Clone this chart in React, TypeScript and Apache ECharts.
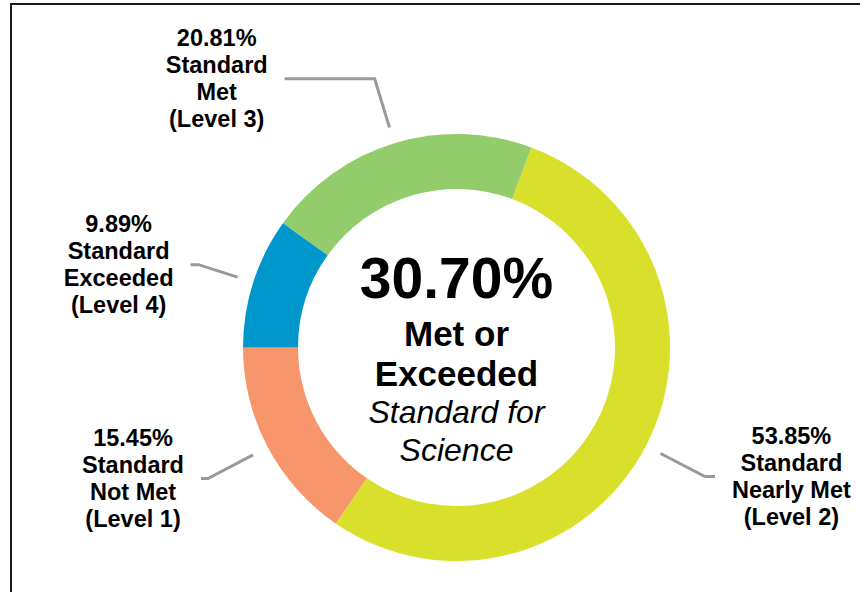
import React, { useEffect, useRef } from "react";
import * as echarts from "echarts";

const categories = [
  "Standard\nNot Met\n(Level 1)",
  "Standard\nNearly Met\n(Level 2)",
  "Standard\nMet\n(Level 3)",
  "Standard\nExceeded\n(Level 4)",
];
const values = [15.45, 53.85, 20.81, 9.89];
const colors = ["#F7966B", "#D8E02B", "#93CD6B", "#0097CD"];
const centerLines = ["Met or", "Exceeded"];
const subLines = ["Standard for", "Science"];

const CX = 456.5;
const CY = 347.5;
const R_IN = 158.5;
const R_OUT = 213.5;
const START = 180;
const lineR0 = [230, 230, 230, 230];
const lineR1 = [281, 280, 281, 271];
const lineL2 = [7, 10, 90, 8];

const FONT = "'Liberation Sans', Arial, Helvetica, sans-serif";

export default function App() {
  const ref = useRef<HTMLDivElement>(null);
  useEffect(() => {
    if (!ref.current) return;
    const chart = echarts.init(ref.current, null, { renderer: "svg" });
    const total = values.reduce((a, b) => a + b, 0);
    const mids: number[] = [];
    let cum = 0;
    values.forEach((v) => {
      mids.push(START + (360 * (cum + v / 2)) / total);
      cum += v;
    });
    const linePts = mids.map((deg, i) => {
      const a = (deg * Math.PI) / 180;
      const c = Math.cos(a);
      const s = Math.sin(a);
      const side = c < 0 ? -1 : 1;
      const p0 = [CX + lineR0[i] * c, CY - lineR0[i] * s];
      const p1 = [CX + lineR1[i] * c, CY - lineR1[i] * s];
      const p2 = [p1[0] + side * lineL2[i], p1[1]];
      return { side, pts: [p0, p1, p2] };
    });
    const metPct = values[2] + values[3];

    chart.setOption({
      animation: false,
      backgroundColor: "#ffffff",
      graphic: [
        {
          type: "rect",
          shape: { x: 11, y: 4, width: 900, height: 700 },
          style: { fill: "none", stroke: "#1a1a1a", lineWidth: 2 },
          silent: true,
        },
        {
          type: "text",
          x: CX,
          y: 278,
          style: {
            text: metPct.toFixed(2) + "%",
            font: `bold 57px ${FONT}`,
            fill: "#000",
            align: "center",
            verticalAlign: "middle",
          },
        },
        ...centerLines.map((t, i) => ({
          type: "text",
          x: CX,
          y: 333 + i * 40,
          style: {
            text: t,
            font: `bold 35px ${FONT}`,
            fill: "#000",
            align: "center",
            verticalAlign: "middle",
          },
        })),
        ...subLines.map((t, i) => ({
          type: "text",
          x: CX,
          y: 412 + i * 38,
          style: {
            text: t,
            font: `italic 32px ${FONT}`,
            fill: "#000",
            align: "center",
            verticalAlign: "middle",
          },
        })),
      ],
      series: [
        {
          type: "pie",
          center: [CX, CY],
          radius: [R_IN, R_OUT],
          startAngle: START,
          clockwise: false,
          avoidLabelOverlap: false,
          itemStyle: { borderWidth: 0 },
          emphasis: { disabled: true },
          data: categories.map((name, i) => ({
            name,
            value: values[i],
            itemStyle: { color: colors[i] },
          })),
          label: {
            show: true,
            position: "outside",
            formatter: (p: any) => p.value.toFixed(2) + "%\n" + p.name,
            fontFamily: FONT,
            fontWeight: "bold",
            fontSize: 23.5,
            lineHeight: 27,
            color: "#000",
            align: "center",
          },
          labelLine: {
            show: true,
            length: 40,
            length2: 10,
            lineStyle: { color: "#999999", width: 3 },
          },
          labelLayout: (params: any) => {
            const i = params.dataIndex;
            const lp = linePts[i];
            const end = lp.pts[2];
            const w = params.labelRect.width;
            return {
              x: end[0] + lp.side * (17 + w / 2),
              y: end[1],
              align: "center",
              verticalAlign: "middle",
              labelLinePoints: lp.pts,
            };
          },
        },
      ],
    });
    return () => chart.dispose();
  }, []);
  return (
    <div
      ref={ref}
      style={{ position: "fixed", left: 0, top: 0, width: 860, height: 592 }}
    />
  );
}
